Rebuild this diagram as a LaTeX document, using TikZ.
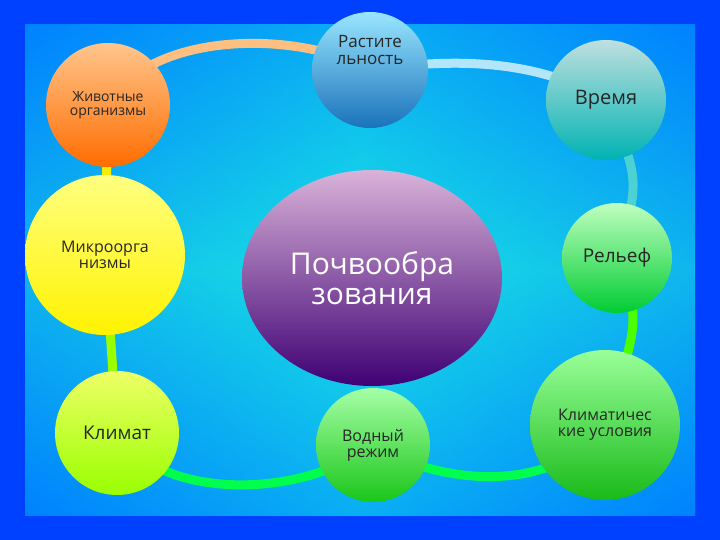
\documentclass[tikz,border=0pt]{standalone}
\usepackage{fontspec}
\setmainfont{Open Sans}
\usetikzlibrary{shapes.geometric}
\newcommand{\fs}[1]{\fontsize{#1}{#1*1.2}\selectfont}
\begin{document}
\begin{tikzpicture}[x=1pt,y=-1pt,
  ball/.style={circle,minimum size=#1,inner sep=0pt,align=center,text=black!85},
  link/.style={line width=9pt,line cap=round}]
\useasboundingbox (0,0) rectangle (720,540);
\fill[blue!75!cyan] (0,0) rectangle (720,540);
\shade[left color=blue!55!cyan,right color=blue!55!cyan,middle color=cyan!75!teal!90!white] (25,25) rectangle (695,515);
\shade[top color=blue!45!cyan,bottom color=blue!45!cyan,middle color=cyan!75!teal!90!white,opacity=0.6] (25,25) rectangle (695,515);
% connectors
\coordinate (c1) at (108,105); \coordinate (c2) at (370,70); \coordinate (c3) at (606,100);
\coordinate (c4) at (105,255); \coordinate (c6) at (617,258); \coordinate (c7) at (117,433);
\coordinate (c8) at (373,445); \coordinate (c9) at (605,425);
\draw[link,orange!50!white] (c1) .. controls (150,30) and (300,30) .. (c2);
\draw[link,cyan!30!white] (c2) .. controls (440,60) and (530,55) .. (c3);
\draw[link,teal!50!cyan!70!white] (c3) .. controls (640,180) .. (c6);
\draw[link,green!60!lime] (c6) .. controls (640,320) .. (c9);
\draw[link,yellow!80!lime] (c1) -- (c4);
\draw[link,lime!80!green] (c4) -- (c7);
\draw[link,green!70!cyan] (c7) .. controls (160,500) and (300,500) .. (c8);
\draw[link,green!70!cyan] (c8) .. controls (450,490) and (560,490) .. (c9);
% nodes
\node[ball=124pt,top color=orange!45!white,bottom color=orange!85!red,font=\fs{14pt}] (a) at (c1) {Животные\\организмы};
\node[ball=116pt,top color=blue!25!cyan!40!white,bottom color=blue!45!cyan!70!black!90,font=\fs{17pt},text depth=40pt] (b) at (c2) {Растите\\льность};
\node[ball=120pt,top color=teal!25!white,bottom color=teal!60!cyan,font=\fs{20pt}] (t) at (c3) {Время};
\node[ball=160pt,top color=yellow!50!white,bottom color=yellow!90!orange,font=\fs{16pt}] (m) at (c4) {Микроорга\\низмы};
\node[ellipse,minimum width=260pt,minimum height=216pt,inner sep=0pt,align=center,text=white,top color=violet!30!white,bottom color=violet!70!blue!70!black,font=\fs{30pt}] (p) at (372,278) {Почвообра\\зования};
\node[ball=110pt,top color=green!25!white,bottom color=green!60!teal,font=\fs{19pt}] (r) at (c6) {Рельеф};
\node[ball=124pt,top color=lime!45!yellow!60!white,bottom color=lime!80!green,font=\fs{19pt}] (k) at (c7) {Климат};
\node[ball=114pt,top color=green!35!white,bottom color=green!75!black!90,font=\fs{16pt}] (w) at (c8) {Водный\\режим};
\node[ball=150pt,top color=green!40!white,bottom color=green!70!black!90,font=\fs{16pt}] (ku) at (c9) {Климатичес\\кие условия};
\end{tikzpicture}
\end{document}
